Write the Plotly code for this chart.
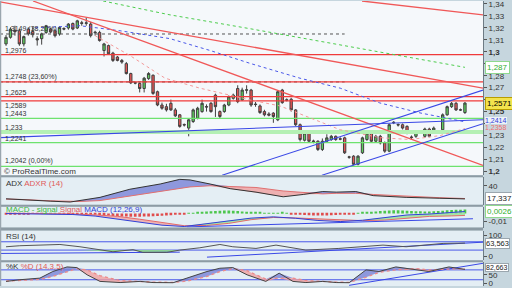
import plotly.graph_objects as go
import numpy as np

# ---------------- price data (EUR/USD-like daily candles) ----------------
opens = [1.3066,1.3121,1.3180,1.3176,1.3066,1.3190,1.3170,1.3110,1.3110,1.3162,
         1.3190,1.3176,1.3149,1.3195,1.3199,1.3237,1.3199,1.3243,1.3238,1.3232,
         1.3165,1.3162,1.3011,1.3052,1.2989,1.2956,1.2928,1.2901,1.2818,1.2742,
         1.2735,1.2693,1.2776,1.2804,1.2666,1.2555,1.2541,1.2569,1.2514,1.2473,
         1.2392,1.2362,1.2417,1.2445,1.2500,1.2542,1.2569,1.2638,1.2500,1.2500,
         1.2555,1.2611,1.2693,1.2597,1.2678,1.2680,1.2563,1.2547,1.2500,1.2480,
         1.2487,1.2431,1.2680,1.2599,1.2603,1.2514,1.2390,1.2260,1.2321,1.2254,
         1.2252,1.2183,1.2252,1.2266,1.2293,1.2273,1.2280,1.2121,1.2127,1.2059,
         1.2155,1.2266,1.2335,1.2252,1.2293,1.2238,1.2169,1.2411,1.2392,1.2390,
         1.2376,1.2287,1.2293,1.2328,1.2293,1.2354,1.2335,1.2336,1.2348,1.2473,
         1.2541,1.2569,1.2515,1.2492]
highs = [1.3140,1.3205,1.3218,1.3190,1.3135,1.3205,1.3210,1.3130,1.3160,1.3225,
         1.3200,1.3190,1.3215,1.3205,1.3240,1.3245,1.3268,1.3259,1.3285,1.3250,
         1.3176,1.3176,1.3075,1.3060,1.3000,1.2965,1.2940,1.2915,1.2825,1.2750,
         1.2745,1.2790,1.2830,1.2810,1.2675,1.2575,1.2565,1.2600,1.2530,1.2480,
         1.2400,1.2440,1.2525,1.2540,1.2600,1.2560,1.2580,1.2650,1.2510,1.2565,
         1.2635,1.2650,1.2720,1.2700,1.2720,1.2690,1.2580,1.2560,1.2515,1.2495,
         1.2495,1.2680,1.2690,1.2610,1.2615,1.2520,1.2400,1.2330,1.2330,1.2265,
         1.2260,1.2275,1.2310,1.2305,1.2300,1.2285,1.2290,1.2130,1.2135,1.2135,
         1.2290,1.2335,1.2345,1.2305,1.2305,1.2250,1.2400,1.2420,1.2400,1.2400,
         1.2385,1.2300,1.2335,1.2340,1.2365,1.2365,1.2375,1.2345,1.2485,1.2550,
         1.2580,1.2580,1.2525,1.2580]
lows = [1.3050,1.3110,1.3135,1.3050,1.3045,1.3135,1.3120,1.3052,1.3060,1.3150,
        1.3155,1.3120,1.3135,1.3180,1.3185,1.3180,1.3190,1.3218,1.3218,1.3120,
        1.3135,1.3085,1.2961,1.2975,1.2915,1.2920,1.2900,1.2810,1.2730,1.2728,
        1.2660,1.2660,1.2765,1.2640,1.2545,1.2515,1.2500,1.2505,1.2455,1.2365,
        1.2375,1.2293,1.2405,1.2435,1.2490,1.2500,1.2490,1.2455,1.2440,1.2490,
        1.2545,1.2600,1.2570,1.2590,1.2650,1.2540,1.2540,1.2480,1.2460,1.2460,
        1.2406,1.2420,1.2565,1.2585,1.2500,1.2380,1.2250,1.2250,1.2240,1.2235,
        1.2170,1.2170,1.2240,1.2255,1.2255,1.2260,1.2145,1.2105,1.2050,1.2050,
        1.2145,1.2255,1.2240,1.2240,1.2225,1.2155,1.2160,1.2395,1.2375,1.2350,
        1.2310,1.2270,1.2280,1.2315,1.2280,1.2285,1.2325,1.2325,1.2340,1.2465,
        1.2530,1.2505,1.2505,1.2480]
closes = [1.3121,1.3190,1.3168,1.3066,1.3127,1.3149,1.3143,1.3100,1.3150,1.3218,
          1.3165,1.3135,1.3204,1.3190,1.3232,1.3190,1.3259,1.3238,1.3242,1.3135,
          1.3160,1.3094,1.3066,1.2983,1.2928,1.2928,1.2914,1.2818,1.2740,1.2738,
          1.2693,1.2779,1.2818,1.2652,1.2555,1.2528,1.2514,1.2514,1.2464,1.2376,
          1.2388,1.2431,1.2514,1.2528,1.2569,1.2538,1.2500,1.2541,1.2459,1.2555,
          1.2624,1.2638,1.2583,1.2680,1.2682,1.2555,1.2559,1.2492,1.2473,1.2470,
          1.2459,1.2666,1.2575,1.2595,1.2514,1.2390,1.2266,1.2321,1.2252,1.2250,
          1.2183,1.2252,1.2280,1.2293,1.2266,1.2269,1.2155,1.2118,1.2059,1.2127,
          1.2280,1.2321,1.2252,1.2293,1.2238,1.2169,1.2390,1.2407,1.2388,1.2362,
          1.2321,1.2284,1.2326,1.2325,1.2354,1.2293,1.2362,1.2334,1.2473,1.2541,
          1.2569,1.2514,1.2513,1.2571]
bar_idx = list(range(len(closes)))

# ---------------- drawn levels ----------------
red_levels = [1.2976, 1.2748, 1.2625, 1.2589]
red_labels = ["1,2976", "1,2748 (23,60%)", "1,2625", "1,2589"]
green_levels = [1.2443, 1.2241, 1.2042]
green_labels = ["1,2443", "1,2241", "1,2042 (0,00%)"]
band_levels = [1.2330]
band_labels = ["1,233"]
dotted_levels = [1.3149, 1.2748]
dotted_labels = ["1,3149 (38,20%)", ""]
dotted_end_idx = 76

# trendlines (bar index, price)
red_trend_x = [[-1.35, 107.05], [6.06, 107.05], [79.9, 107.05]]
red_trend_y = [[1.3417, 1.2696], [1.3425, 1.2050], [1.3425, 1.3309]]
blue_trend_x = [[-1.35, 107.05], [48.5, 107.05], [70.9, 107.05]]
blue_trend_y = [[1.2282, 1.2431], [1.1968, 1.2680], [1.1968, 1.2398]]

# moving averages (sampled)
ma_green_x = [21.8, 36.8, 54.8, 75.0, 88.4, 103.0]
ma_green_y = [1.3425, 1.3309, 1.3193, 1.3060, 1.2969, 1.2870]
ma_blue_x = [6.5, 16.6, 25.6, 36.8, 45.8, 54.8, 66.0, 75.0, 83.9, 92.9, 100.8, 103.0]
ma_blue_y = [1.3201, 1.3218, 1.3176, 1.3110, 1.3011, 1.2903, 1.2779, 1.2696, 1.2572, 1.2489, 1.2431, 1.2414]
ma_pink_x = [20.0, 27.8, 35.7, 43.5, 54.8, 61.5, 68.2, 75.0, 83.9, 90.7, 97.4, 103.0]
ma_pink_y = [1.3135, 1.2969, 1.2779, 1.2696, 1.2597, 1.2547, 1.2448, 1.2348, 1.2282, 1.2266, 1.2299, 1.2358]

# ---------------- indicators ----------------
adx_x = [0, 3.1, 9.9, 14.4, 16.6, 21.1, 27.8, 34.6, 39.0, 41.3, 45.8, 50.3, 56.1, 62.2, 66.7, 71.1, 74.1, 78.5, 82.4, 89.8, 97.2, 103]
adx = [17.5, 16, 13.5, 12, 14.5, 20, 34, 43, 51, 50, 43, 35, 29, 21, 25, 30, 29, 30, 23, 20, 18.5, 17.337]
adxr = [17, 16.5, 14, 13, 13, 14.5, 22, 30, 35, 38, 40, 39, 37, 31, 28, 26, 27, 27, 25, 22, 19.5, 18]

macd_hist = [-0.0004,-0.0006,-0.0007,-0.0006,-0.0005,-0.0004,-0.0003,
             -0.0002,-0.0001,0.0001,0.0002,0.0001,-0.0001,-0.0003,-0.0005,-0.0006,-0.0008,-0.0010,-0.0012,-0.0014,-0.0016,
             -0.0018,-0.0022,-0.0026,-0.0030,-0.0033,-0.0036,-0.0038,-0.0040,-0.0041,-0.0040,
             -0.0038,-0.0036,-0.0034,-0.0031,-0.0028,-0.0024,-0.0020,-0.0015,-0.0010,-0.0005,
             0.0003,0.0008,0.0014,0.0020,0.0025,0.0030,0.0033,0.0036,0.0038,0.0038,0.0036,0.0033,0.0028,0.0022,0.0016,0.0012,
             0.0010,0.0008,0.0007,0.0006,0.0008,0.0012,
             0.0004,
             -0.0005,-0.0010,-0.0015,-0.0019,-0.0022,-0.0024,-0.0025,-0.0025,-0.0024,-0.0022,-0.0019,-0.0016,-0.0012,-0.0008,-0.0004,
             0.0005,0.0010,0.0016,0.0022,0.0028,0.0033,0.0037,0.0040,0.0042,0.0042,0.0040,0.0037,0.0034,0.0031,0.0029,
             0.0028,0.0028,0.0030,0.0033,0.0037,0.0041,0.0045,0.0048,0.0050,0.0052]
macd_x = [0, 5, 10, 15, 20, 25, 30, 35, 40, 45, 50, 55, 60, 65, 70, 75, 80, 85, 90, 95, 100, 103]
macd_line = [0.0000,-0.0004,-0.0003,-0.0012,-0.0032,-0.0068,-0.0110,-0.0148,-0.0165,-0.0128,-0.0088,
             -0.0058,-0.0042,-0.0060,-0.0088,-0.0102,-0.0085,-0.0048,-0.0018,-0.0006,0.0014,0.0026]
signal_line = [0.0004,0.0002,-0.0002,-0.0005,-0.0017,-0.0035,-0.0072,-0.0110,-0.0155,-0.0152,-0.0125,
               -0.0078,-0.0050,-0.0056,-0.0066,-0.0080,-0.0090,-0.0083,-0.0058,-0.0036,-0.0030,-0.0024]
macd_trend_x = [40.6, 104.8]
macd_trend_y = [-0.0170, -0.0066]

rsi_x = [0, 3.1, 12.1, 16.6, 24.0, 28.5, 30.7, 36.1, 39.0, 43.5, 48.0, 50.9, 56.1, 60.6, 67.3, 74.7, 84.6, 89.8, 98.1, 103]
rsi = [46, 51, 57, 46, 22, 32, 19, 19, 30, 41, 57, 46, 38, 54, 30, 38, 54, 46, 62, 63.563]
rsi_trend_x = [[-1.35, 39.0], [45.1, 107.05]]
rsi_trend_y = [[13.7, 20.0], [-4.0, 68.0]]

st_x = [0, 3.1, 7.6, 10.5, 13.7, 15.9, 18.2, 21.1, 25.6, 30.1, 33.0, 37.5, 40.6, 45.1, 48.0, 50.9,
        54.1, 56.1, 58.3, 61.3, 64.4, 67.3, 71.1, 74.1, 77.0, 80.8, 83.7, 87.5, 92.0, 94.9, 99.4, 103]
st_k = [10, 20, 30, 70, 98, 94, 50, 10, 3, 10, 3, 2, 30, 70, 90, 94, 50, 30, 10, 60, 10, 3, 10, 3, 2, 80, 70, 98, 80, 70, 98, 82.663]
st_d = [12, 15, 22, 40, 70, 88, 80, 45, 15, 8, 6, 4, 12, 40, 70, 88, 75, 50, 25, 30, 30, 15, 8, 6, 4, 35, 65, 80, 88, 80, 85, 88]
st_trend_x = [77.0, 107.05]
st_trend_y = [-14, 120]

# tick labels hidden in the reference under the value boxes are left blank
main_ticks = [1.20, 1.21, 1.22, 1.23, 1.24, 1.25, 1.26, 1.27, 1.28, 1.29, 1.30, 1.31, 1.32, 1.33, 1.34]
main_ticktext = ["<b>1,2</b>", "1,21", "1,22", "1,23", "", "<b>1,25</b>", "", "1,27", "1,28",
                 "", "<b>1,3</b>", "1,31", "1,32", "1,33", "1,34"]

# ---------------- figure ----------------
XR = [-1.35, 107.05]
FONT = "Liberation Sans, Arial, sans-serif"
fig = go.Figure()

def line(x, y, color, width=1, dash="solid", yaxis="y"):
    return go.Scatter(x=x, y=y, mode="lines", line=dict(color=color, width=width, dash=dash),
                      yaxis=yaxis, hoverinfo="skip", showlegend=False)

def two_color_fill(xs, a, b, yaxis, col_pos, col_neg):
    a = np.array(a, dtype=float); b = np.array(b, dtype=float)
    base = dict(mode="lines", line=dict(width=0), yaxis=yaxis, hoverinfo="skip", showlegend=False)
    return [go.Scatter(x=xs, y=b, **base),
            go.Scatter(x=xs, y=np.maximum(a, b), fill="tonexty", fillcolor=col_pos, **base),
            go.Scatter(x=xs, y=b, **base),
            go.Scatter(x=xs, y=np.minimum(a, b), fill="tonexty", fillcolor=col_neg, **base)]

# main panel lines
for lv in band_levels:
    fig.add_trace(line(XR, [lv, lv], "#b4f0b4", 4))
for lv in dotted_levels:
    fig.add_trace(line([XR[0], dotted_end_idx], [lv, lv], "#555555", 1, "dot"))
for lv in red_levels:
    fig.add_trace(line(XR, [lv, lv], "#f03a3a", 1.3))
for lv in green_levels:
    fig.add_trace(line(XR, [lv, lv], "#6ee26e", 1.3))
fig.add_trace(line(ma_green_x, ma_green_y, "#4ccc4c", 1, "dot"))
fig.add_trace(line(ma_blue_x, ma_blue_y, "#4a58e8", 1, "dot"))
fig.add_trace(line(ma_pink_x, ma_pink_y, "#f29a9a", 1, "dot"))
for xs, ys in zip(red_trend_x, red_trend_y):
    fig.add_trace(line(xs, ys, "#f05858", 1.3))
for xs, ys in zip(blue_trend_x, blue_trend_y):
    fig.add_trace(line(xs, ys, "#3a48e6", 1.1))

fig.add_trace(go.Candlestick(
    x=bar_idx, open=opens, high=highs, low=lows, close=closes,
    increasing=dict(fillcolor="#5ccf5c", line=dict(color="#404040", width=1)),
    decreasing=dict(fillcolor="#e65656", line=dict(color="#404040", width=1)),
    whiskerwidth=0, showlegend=False, hoverinfo="skip", yaxis="y"))

# ADX panel
for t in two_color_fill(adx_x, adx, adxr, "y2", "rgba(120,130,215,0.8)", "rgba(240,160,160,0.8)"):
    fig.add_trace(t)
fig.add_trace(line(adx_x, adxr, "#e07070", 1, yaxis="y2"))
fig.add_trace(line(adx_x, adx, "#333333", 1, yaxis="y2"))

# MACD panel
fig.add_trace(go.Bar(x=bar_idx, y=macd_hist, yaxis="y3", width=0.6,
                     marker=dict(color=["#4cc64c" if v >= 0 else "#e04c4c" for v in macd_hist], line=dict(width=0)),
                     hoverinfo="skip", showlegend=False))
for t in two_color_fill(macd_x, macd_line, signal_line, "y3", "rgba(150,225,150,0.8)", "rgba(240,165,165,0.8)"):
    fig.add_trace(t)
fig.add_trace(line(macd_x, signal_line, "#e46a6a", 1, yaxis="y3"))
fig.add_trace(line(macd_x, macd_line, "#3040d8", 1, yaxis="y3"))
fig.add_trace(line(macd_trend_x, macd_trend_y, "#3a48e6", 1, yaxis="y3"))

# RSI panel
fig.add_trace(line(XR, [70, 70], "#4a58e8", 1, yaxis="y4"))
fig.add_trace(line(XR, [30, 30], "#4a58e8", 1, yaxis="y4"))
fig.add_trace(go.Scatter(x=rsi_x, y=[30] * len(rsi_x), mode="lines", line=dict(width=0), yaxis="y4",
                         hoverinfo="skip", showlegend=False))
fig.add_trace(go.Scatter(x=rsi_x, y=np.minimum(np.array(rsi, dtype=float), 30), mode="lines", line=dict(width=0),
                         fill="tonexty", fillcolor="rgba(140,215,140,0.9)", yaxis="y4", hoverinfo="skip", showlegend=False))
for xs, ys in zip(rsi_trend_x, rsi_trend_y):
    fig.add_trace(line(xs, ys, "#3a48e6", 1, yaxis="y4"))
fig.add_trace(line(rsi_x, rsi, "#555555", 1, yaxis="y4"))

# Stochastic panel
fig.add_trace(line(XR, [80, 80], "#4a58e8", 1, yaxis="y5"))
fig.add_trace(line(XR, [20, 20], "#4a58e8", 1, yaxis="y5"))
for t in two_color_fill(st_x, st_k, st_d, "y5", "rgba(120,130,215,0.8)", "rgba(240,160,160,0.8)"):
    fig.add_trace(t)
fig.add_trace(line(st_trend_x, st_trend_y, "#3a48e6", 1, yaxis="y5"))
fig.add_trace(line(st_x, st_d, "#ec8a8a", 1.3, "dot", yaxis="y5"))
fig.add_trace(line(st_x, st_k, "#444444", 1, yaxis="y5"))

# ---------------- layout ----------------
doms = {"y": [0.3889, 1.0], "y2": [0.2847, 0.3819], "y3": [0.2049, 0.2778],
        "y4": [0.0903, 0.1944], "y5": [0.0, 0.0833]}
tickfont = dict(family=FONT, size=8, color="#333333")
def yax(dom, rng, tv, tt):
    return dict(domain=dom, range=rng, side="right", anchor="x", tickvals=tv, ticktext=tt,
                ticks="outside", ticklen=3, tickcolor="#555", showgrid=False, zeroline=False,
                showline=True, linecolor="#6d7b84", linewidth=1, tickfont=tickfont, fixedrange=True,
                ticklabeloverflow="allow", ticklabelposition="outside")

shapes = []
shapes.append(dict(type="rect", xref="paper", yref="paper", x0=0, x1=1, y0=doms["y"][0], y1=1,
                   fillcolor="#f5f8fb", line=dict(width=0), layer="below"))
for k in ["y2", "y3", "y4", "y5"]:
    shapes.append(dict(type="rect", xref="paper", yref="paper", x0=0, x1=1, y0=doms[k][0], y1=doms[k][1],
                       fillcolor="#e4eef4", line=dict(width=0), layer="below"))
for a, b in [(doms["y2"][1], doms["y"][0]), (doms["y3"][1], doms["y2"][0]),
             (doms["y4"][1], doms["y3"][0]), (doms["y5"][1], doms["y4"][0])]:
    shapes.append(dict(type="rect", xref="paper", yref="paper", x0=0, x1=1, y0=a, y1=b,
                       fillcolor="#8d9ba4", line=dict(width=0), layer="above"))
shapes.append(dict(type="line", xref="paper", yref="paper", x0=0.001, x1=0.001, y0=0, y1=1,
                   line=dict(color="#9aa6ae", width=1.5)))

ann = []
def lvl_label(text, y, below=False, color="#333333"):
    if text:
        ann.append(dict(xref="paper", yref="y", x=0.006, y=y, text=text, showarrow=False, xanchor="left",
                        yanchor="top" if below else "bottom", yshift=1 if below else -1,
                        font=dict(family=FONT, size=7, color=color)))
for t, v in zip(red_labels, red_levels):
    lvl_label(t, v, below=(t == "1,2589"))
for t, v in zip(green_labels, green_levels):
    lvl_label(t, v)
for t, v in zip(band_labels, band_levels):
    lvl_label(t, v)
for t, v in zip(dotted_labels, dotted_levels):
    lvl_label(t, v)

ann.append(dict(xref="paper", yref="paper", x=0.004, y=(288 - 172) / 288, text="© ProRealTime.com",
                showarrow=False, xanchor="left", yanchor="middle", font=dict(family=FONT, size=8, color="#333")))

def title(text, ypix):
    ann.append(dict(xref="paper", yref="paper", x=0.008, y=(288 - ypix) / 288, text=text, showarrow=False,
                    xanchor="left", yanchor="middle", font=dict(family=FONT, size=8, color="#333")))
title('ADX <span style="color:#e05a5a">ADXR (14)</span>', 184.5)
title('<span style="color:#3cb83c">MACD</span> <span style="color:#3cb83c">- signal</span> '
      '<span style="color:#e05a5a">Signal</span> <span style="color:#3040d8">MACD (12,26,9)</span>', 211)
title('RSI (14)', 237.5)
title('%K <span style="color:#e05a5a">%D (14,3,5)</span>', 268.5)

def box(text, yref, y, fc, bg, bc, size=8, pad=1, bw=1, yshift=0):
    ann.append(dict(xref="paper", yref=yref, x=1, y=y, text=text, showarrow=False, xanchor="left",
                    yanchor="middle", xshift=2, yshift=yshift, font=dict(family=FONT, size=size, color=fc),
                    bgcolor=bg, bordercolor=bc, borderwidth=bw, borderpad=pad))
box("1,287", "y", 1.287, "#2fae2f", "#ffffff", "#8fd88f")
box("1,2571", "y", 1.2571, "#000000", "#f3e34d", "#b89d00")
box("1,2414", "y", 1.2414, "#3040d8", "#eef2f8", "#eef2f8", 7, 0, 0, 1)
box("1,2358", "y", 1.2358, "#f07070", "#c6d6de", "#c6d6de", 7, 0, 0, 1)
box("17,337", "y2", 17.337, "#222222", "#ffffff", "#9aa6ae")
box("0,0026", "y3", 0.0026, "#2fae2f", "#ffffff", "#8fd88f")
box("63,563", "y4", 63.563, "#222222", "#ffffff", "#9aa6ae", 7.5, 0)
box("82,663", "y5", 82.663, "#222222", "#ffffff", "#9aa6ae", 7, 0, 1, 2)

fig.update_layout(
    width=512, height=288, margin=dict(l=0, r=29, t=0, b=0),
    paper_bgcolor="#c6d6de", plot_bgcolor="rgba(0,0,0,0)",
    showlegend=False, bargap=0.3, boxgap=0.25,
    xaxis=dict(domain=[0, 1], range=XR, visible=False, anchor="y", rangeslider=dict(visible=False), fixedrange=True),
    yaxis=yax(doms["y"], [1.1968, 1.3425], main_ticks, main_ticktext),
    yaxis2=yax(doms["y2"], [7.1, 54.8], [40], ["40"]),
    yaxis3=yax(doms["y3"], [-0.0179, 0.0086], [-0.01], ["-0,01"]),
    yaxis4=yax(doms["y4"], [-19, 123.8], [0, 100], ["0", "100"]),
    yaxis5=yax(doms["y5"], [-18, 126.4], [0, 50], ["0", "50"]),
    shapes=shapes, annotations=ann,
)
fig.write_html("out.html", config={"displayModeBar": False})
